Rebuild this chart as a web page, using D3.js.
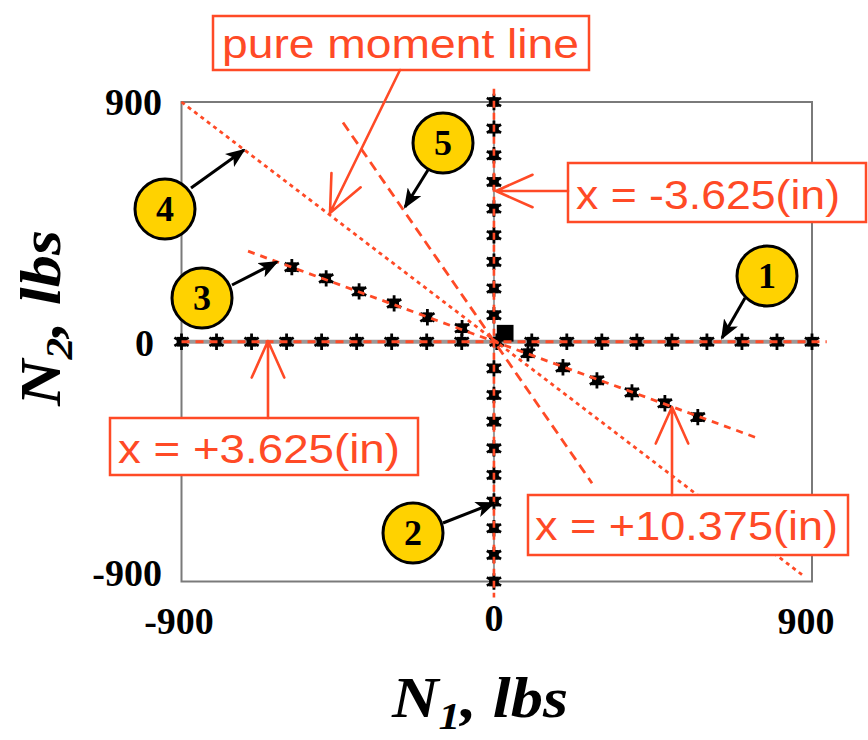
<!DOCTYPE html>
<html><head><meta charset="utf-8">
<script src="https://cdn.jsdelivr.net/npm/d3@7"></script>
<style>body{margin:0;background:#fff}svg{display:block}</style>
</head><body>
<svg id="c" width="868" height="740"></svg>
<script>
// ---------- data ----------
const axisDomain = [-900, 900];
const xTickValues = [-900, 0, 900];
const yTickValues = [900, 0, -900];
const xTickLabels = ["-900", "0", "900"];
const yTickLabels = ["900", "0", "-900"];

// series 1 / "x = +3.625" : points on N2 = 0
const horizN1 = [-900,-800,-700,-600,-500,-400,-300,-200,-100,0,100,200,300,400,500,600,700,800,900];
const horizN2 = horizN1.map(() => 0);
// series 2 / "x = -3.625" : points on the vertical line
const vertN2 = [900,800,700,600,500,400,300,200,100,-100,-200,-300,-400,-500,-600,-700,-800,-900];
const vertN1 = vertN2.map(() => -8);
// series 3 / "x = +10.375" : diagonal points
const diagN1 = [-585,-487,-393,-293,-198,-99,89,189,286,386,480,574];
const diagN2 = [280,238,189,144,92,51,-43,-96,-145,-190,-231,-283];
// single filled square near the origin
const squarePoint = [[24, 32]];

// reference lines (end points in data units)
const lineHoriz = [[-900, 0], [942, 0]];
const lineVert = [[-8, 950], [-8, -960]];
const lineDiag = [[-710, 340], [745, -362]];
const linePureMoment = [[-900, 900], [880, -883]];
const lineFive = [[-439, 823], [272, -531]];

// ---------- layout ----------
const RED = "#ff4a26";
const svg = d3.select("#c");
const x = d3.scaleLinear().domain(axisDomain).range([181.5, 812]);
const y = d3.scaleLinear().domain(axisDomain).range([581.5, 102]);

// frame
svg.append("rect").attr("x", x(-900)).attr("y", y(900))
  .attr("width", x(900) - x(-900)).attr("height", y(-900) - y(900))
  .attr("fill", "none").attr("stroke", "#7a7a7a").attr("stroke-width", 2);
// grey zero lines
svg.append("line").attr("x1", x(-900)).attr("x2", x(900)).attr("y1", y(0)).attr("y2", y(0))
  .attr("stroke", "#9a9a9a").attr("stroke-width", 4);
svg.append("line").attr("x1", x(-8)).attr("x2", x(-8)).attr("y1", y(900)).attr("y2", y(-900))
  .attr("stroke", "#9a9a9a").attr("stroke-width", 2);

// markers
const pts = [];
horizN1.forEach((v, i) => pts.push([v, horizN2[i]]));
vertN2.forEach((v, i) => pts.push([vertN1[i], v]));
diagN1.forEach((v, i) => pts.push([v, diagN2[i]]));
const mk = svg.append("g");
const ast = d3.symbol(d3.symbolAsterisk).size(190)();
const sq = d3.symbol(d3.symbolSquare).size(95)();
pts.forEach(p => {
  const g = mk.append("g").attr("transform", `translate(${x(p[0])},${y(p[1])})`);
  g.append("path").attr("d", sq).attr("fill", "#000");
  g.append("path").attr("d", ast).attr("fill", "none").attr("stroke", "#000").attr("stroke-width", 2.8);
});
squarePoint.forEach(p => {
  svg.append("path").attr("transform", `translate(${x(p[0])},${y(p[1])})`)
    .attr("d", d3.symbol(d3.symbolSquare).size(280)()).attr("fill", "#000");
});

// dashed reference lines
const lg = d3.line().x(d => x(d[0])).y(d => y(d[1]));
function dl(data, dash, w) {
  svg.append("path").attr("d", lg(data)).attr("fill", "none").attr("stroke", RED)
    .attr("stroke-width", w).attr("stroke-dasharray", dash);
}
dl(lineHoriz, "8,6", 3.2);
dl(lineVert, "7,5", 2.6);
dl(lineDiag, "7,6", 2.8);
dl(linePureMoment, "4,4", 2.8);
dl(lineFive, "10,6", 2.8);

// tick labels
const tickFont = "'Liberation Serif', 'Times New Roman', serif";
const yTickRight = [162, 154, 162];
const yTickBase = [115, 356, 586];
yTickValues.forEach((v, i) => {
  svg.append("text").attr("x", yTickRight[i]).attr("y", yTickBase[i]).attr("text-anchor", "end")
    .attr("font-family", tickFont).attr("font-weight", "bold").attr("font-size", 38)
    .text(yTickLabels[i]);
});
const xTickCenter = [179, 494, 806];
const xTickBase = [634, 631, 634];
xTickValues.forEach((v, i) => {
  svg.append("text").attr("x", xTickCenter[i]).attr("y", xTickBase[i]).attr("text-anchor", "middle")
    .attr("font-family", tickFont).attr("font-weight", "bold").attr("font-size", 38)
    .text(xTickLabels[i]);
});

// axis titles
function axisTitle(sel, sub) {
  sel.attr("font-family", tickFont).attr("font-weight", "bold").attr("font-style", "italic")
    .attr("font-size", 56).attr("text-anchor", "middle")
    .attr("textLength", 176).attr("lengthAdjust", "spacingAndGlyphs");
  sel.append("tspan").text("N");
  sel.append("tspan").attr("font-size", 38).attr("dy", 12).text(sub);
  sel.append("tspan").attr("dy", -12).text(", lbs");
}
axisTitle(svg.append("text").attr("x", 480).attr("y", 717), "1");
axisTitle(svg.append("text").attr("transform", "translate(60,318) rotate(-90)"), "2");

// annotation boxes
const boxFont = "'Liberation Sans', Arial, Helvetica, sans-serif";
const boxes = [
  {x: 213, y: 16, w: 376, h: 54, tx: 222, ty: 58, tl: 357, text: "pure moment line"},
  {x: 568, y: 163, w: 298, h: 59, tx: 576, ty: 209, tl: 264, text: "x = -3.625(in)"},
  {x: 110, y: 418, w: 308, h: 57, tx: 118, ty: 463, tl: 282, text: "x = +3.625(in)"},
  {x: 528, y: 495, w: 320, h: 60, tx: 535, ty: 540, tl: 303, text: "x = +10.375(in)"}
];
boxes.forEach(b => {
  svg.append("rect").attr("x", b.x).attr("y", b.y).attr("width", b.w).attr("height", b.h)
    .attr("fill", "#fff").attr("stroke", RED).attr("stroke-width", 2.5);
  svg.append("text").attr("x", b.tx).attr("y", b.ty).attr("font-family", boxFont)
    .attr("font-size", 41).attr("fill", RED).attr("textLength", b.tl)
    .attr("lengthAdjust", "spacingAndGlyphs").text(b.text);
});

// open red arrows
const redArrows = [
  [[400, 70], [330, 213]],
  [[568, 191], [496, 191]],
  [[268, 418], [268, 341]],
  [[672, 495], [672, 407]]
];
redArrows.forEach(([a, b]) => {
  const ang = Math.atan2(b[1] - a[1], b[0] - a[0]);
  const L = 40, da = 24 * Math.PI / 180;
  const h1 = [b[0] - L * Math.cos(ang - da), b[1] - L * Math.sin(ang - da)];
  const h2 = [b[0] - L * Math.cos(ang + da), b[1] - L * Math.sin(ang + da)];
  svg.append("path").attr("d", `M${a}L${b}M${h1}L${b}L${h2}`).attr("fill", "none")
    .attr("stroke", RED).attr("stroke-width", 2.6).attr("stroke-linecap", "round")
    .attr("stroke-linejoin", "round");
});

// numbered callouts
svg.append("defs").append("marker").attr("id", "ah").attr("viewBox", "0 0 20 16")
  .attr("refX", 18).attr("refY", 8).attr("markerWidth", 20).attr("markerHeight", 16)
  .attr("markerUnits", "userSpaceOnUse").attr("orient", "auto")
  .append("path").attr("d", "M0,0L20,8L0,16L5,8Z").attr("fill", "#000");
const callouts = [
  {n: "1", cx: 767, cy: 276, a: [745, 298], b: [722, 338]},
  {n: "2", cx: 413, cy: 533, a: [443, 523], b: [494, 503]},
  {n: "3", cx: 202, cy: 298, a: [232, 285], b: [277, 262]},
  {n: "4", cx: 165, cy: 209, a: [191, 188], b: [244, 150]},
  {n: "5", cx: 443, cy: 143, a: [428, 170], b: [405, 207]}
];
callouts.forEach(c => {
  svg.append("line").attr("x1", c.a[0]).attr("y1", c.a[1]).attr("x2", c.b[0]).attr("y2", c.b[1])
    .attr("stroke", "#000").attr("stroke-width", 3).attr("marker-end", "url(#ah)");
  svg.append("circle").attr("cx", c.cx).attr("cy", c.cy).attr("r", 30)
    .attr("fill", "#ffd200").attr("stroke", "#000").attr("stroke-width", 3);
  svg.append("text").attr("x", c.cx).attr("y", c.cy + 12).attr("text-anchor", "middle")
    .attr("font-family", tickFont).attr("font-weight", "bold").attr("font-size", 36).text(c.n);
});
</script>
</body></html>
